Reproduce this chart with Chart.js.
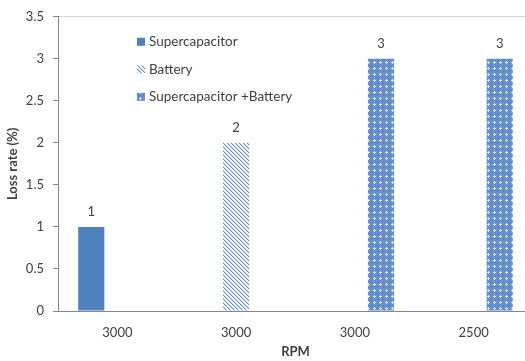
<!DOCTYPE html>
<html>
<head>
<meta charset="utf-8">
<script src="https://cdn.jsdelivr.net/npm/chart.js@4/dist/chart.umd.min.js"></script>
<style>
  html, body { margin: 0; padding: 0; background: #fff; overflow: hidden; }
  #wrap { width: 534px; height: 361px; }
</style>
</head>
<body>
<div id="wrap"><canvas id="c" width="534" height="361"></canvas></div>
<script>
// Loss rate by drive configuration
const categories = ['3000', '3000', '3000', '2500'];
const seriesNames = ['Supercapacitor', 'Battery', 'Supercapacitor +Battery'];
const supercapacitor = [1, null, null, null];
const battery = [null, 2, null, null];
const combined = [null, null, 3, 3];
const yTickLabels = ['0', '0.5', '1', '1.5', '2', '2.5', '3', '3.5'];

const BLUE = '#4f81bd';
const FONT = 'Lato, "Open Sans", "DejaVu Sans", sans-serif';
const TEXT = '#404040';

// diagonal stripes ("\\\\") on white
function stripePattern() {
  const t = document.createElement('canvas');
  t.width = 4; t.height = 4;
  const g = t.getContext('2d');
  g.fillStyle = '#fff'; g.fillRect(0, 0, 4, 4);
  for (let i = 0; i < 4; i++) {
    g.fillStyle = '#c6d6ec';
    g.fillRect((i + 1) % 4, i, 1, 1);
    g.fillStyle = '#5f8cc6';
    g.fillRect(i, i, 1, 1);
  }
  return g.createPattern(t, 'repeat');
}

// blue field with small white crosses
function dotPattern() {
  const t = document.createElement('canvas');
  t.width = 6; t.height = 6;
  const g = t.getContext('2d');
  g.fillStyle = '#6690cb'; g.fillRect(0, 0, 6, 6);
  g.fillStyle = '#c9d8ee';
  g.fillRect(2, 1, 1, 3); g.fillRect(1, 2, 3, 1);
  g.fillStyle = '#ffffff';
  g.fillRect(2, 2, 1, 1);
  g.fillStyle = '#4a7bbd';
  g.fillRect(5, 5, 1, 1);
  return g.createPattern(t, 'repeat');
}

const fills = [BLUE, stripePattern(), dotPattern()];

// value labels above each bar
const valueLabels = {
  id: 'valueLabels',
  afterDatasetsDraw(chart) {
    const ctx = chart.ctx;
    ctx.save();
    ctx.font = '13px ' + FONT;
    ctx.fillStyle = TEXT;
    ctx.textAlign = 'center';
    ctx.textBaseline = 'middle';
    chart.data.datasets.forEach((ds, di) => {
      chart.getDatasetMeta(di).data.forEach((bar, i) => {
        const v = ds.data[i];
        if (v == null) return;
        ctx.fillText(String(v), bar.x, bar.y - 15);
      });
    });
    ctx.restore();
  }
};

// legend inside the plot area
const insideLegend = {
  id: 'insideLegend',
  afterDraw(chart) {
    const ctx = chart.ctx;
    const x0 = chart.chartArea.left + 79;
    const y0 = chart.chartArea.top + 25;
    const step = 27.5;
    ctx.save();
    ctx.font = '13.5px ' + FONT;
    ctx.textBaseline = 'middle';
    chart.data.datasets.forEach((ds, i) => {
      const y = y0 + i * step;
      ctx.fillStyle = ds.backgroundColor;
      ctx.fillRect(x0, y - 4, 8, 8);
      ctx.fillStyle = TEXT;
      ctx.fillText(ds.label, x0 + 12, y);
    });
    ctx.restore();
  }
};

new Chart(document.getElementById('c'), {
  type: 'bar',
  data: {
    labels: categories,
    datasets: [
      { label: seriesNames[0], data: supercapacitor, backgroundColor: fills[0] },
      { label: seriesNames[1], data: battery, backgroundColor: fills[1] },
      { label: seriesNames[2], data: combined, backgroundColor: fills[2] }
    ]
  },
  options: {
    responsive: false,
    animation: false,
    layout: { padding: { top: 11, right: 1, bottom: 0, left: 0 } },
    datasets: { bar: { barPercentage: 1, categoryPercentage: 0.66, borderWidth: 0 } },
    plugins: { legend: { display: false }, tooltip: { enabled: false } },
    scales: {
      x: {
        grid: { display: false, drawTicks: false },
        border: { display: true, color: '#868686', width: 1 },
        ticks: { color: TEXT, font: { family: FONT, size: 13 }, padding: 14 },
        title: { display: true, text: 'RPM', color: TEXT,
                 font: { family: FONT, size: 13, weight: 'bold' }, padding: { top: 0, bottom: 1 } },
        afterFit(s) { s.height = 50; }
      },
      y: {
        min: 0, max: 3.5,
        grid: {
          drawOnChartArea: true,
          color: c => (c.tick && c.tick.value === 3.5 ? '#d4d4d4' : 'rgba(0,0,0,0)'),
          tickColor: '#868686', tickLength: 5
        },
        border: { display: true, color: '#868686', width: 1 },
        ticks: {
          stepSize: 0.5, color: TEXT, font: { family: FONT, size: 13 }, padding: 9,
          callback: (v, i) => yTickLabels[i]
        },
        title: { display: true, text: 'Loss rate (%)', color: TEXT,
                 font: { family: FONT, size: 13, weight: 'bold' }, padding: { top: 5, bottom: 0 } },
        afterFit(s) { s.width = 58; }
      }
    }
  },
  plugins: [valueLabels, insideLegend]
});
</script>
</body>
</html>
